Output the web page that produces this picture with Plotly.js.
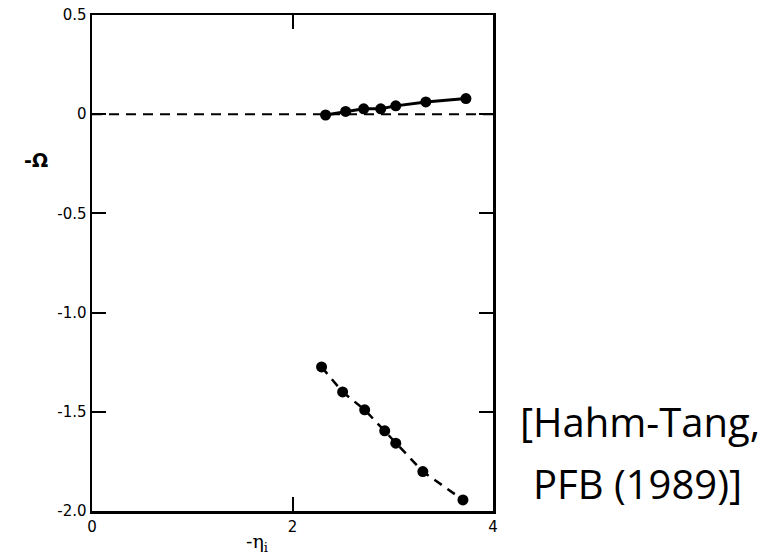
<!DOCTYPE html>
<html>
<head>
<meta charset="utf-8">
<script src="https://cdn.plot.ly/plotly-3.0.1.min.js"></script>
<style>html,body{margin:0;padding:0;background:#fff;}#chart{width:775px;height:557px;}</style>
</head>
<body>
<div id="chart"></div>
<script>
// Upper branch (solid line)
const etaUpper = [2.33, 2.53, 2.71, 2.88, 3.03, 3.33, 3.73];
const omegaUpper = [-0.004, 0.014, 0.027, 0.027, 0.042, 0.062, 0.079];
// Lower branch (dashed line)
const etaLower = [2.29, 2.50, 2.72, 2.92, 3.03, 3.30, 3.70];
const omegaLower = [-1.274, -1.400, -1.490, -1.596, -1.658, -1.801, -1.944];
// Axis ticks
const xTickVals = [0, 2, 4];
const xTickText = ['0', '2', '4'];
const yTickVals = [0.5, 0, -0.5, -1.0, -1.5, -2.0];
const yTickText = ['0.5', '0', '-0.5', '-1.0', '-1.5', '-2.0'];
const xLabel = '-η<sub>i</sub>';
const yLabel = '-Ω';
const citeLine1 = '[Hahm-Tang,';
const citeLine2 = 'PFB (1989)]';

const traces = [
  {x: etaUpper, y: omegaUpper, mode: 'lines+markers', type: 'scatter',
   line: {color: '#000', width: 3}, marker: {color: '#000', size: 11}, cliponaxis: false},
  {x: etaLower, y: omegaLower, mode: 'lines+markers', type: 'scatter',
   line: {color: '#000', width: 2.5, dash: '9px,7px'}, marker: {color: '#000', size: 11}, cliponaxis: false}
];

const tickFont = {family: 'DejaVu Sans, sans-serif', size: 15, color: '#000'};

const layout = {
  width: 775, height: 557,
  margin: {l: 92, r: 282, t: 15, b: 46},
  paper_bgcolor: '#fff', plot_bgcolor: '#fff',
  showlegend: false,
  xaxis: {range: [0, 4], tickvals: xTickVals, ticktext: xTickText, ticks: 'inside', ticklen: 14,
          tickwidth: 2, tickcolor: '#000', showline: true, linewidth: 2.5, linecolor: '#000',
          mirror: 'ticks', showgrid: false, zeroline: false, tickfont: tickFont, fixedrange: true},
  yaxis: {range: [-2.0, 0.5], tickvals: yTickVals, ticktext: yTickText, ticks: 'inside', ticklen: 14,
          tickwidth: 2, tickcolor: '#000', showline: true, linewidth: 2.5, linecolor: '#000',
          mirror: 'ticks', showgrid: false, zeroline: false, tickfont: tickFont, fixedrange: true},
  shapes: [{type: 'line', xref: 'paper', x0: 0, x1: 1, yref: 'y', y0: 0, y1: 0,
            line: {color: '#000', width: 2, dash: '10px,7px'}}],
  annotations: [
    {text: '<b>' + yLabel + '</b>', xref: 'paper', yref: 'y', x: -0.14, y: -0.23, showarrow: false,
     xanchor: 'center', yanchor: 'middle',
     font: {family: 'DejaVu Sans, sans-serif', size: 19, color: '#000'}},
    {text: xLabel, xref: 'x', yref: 'paper', x: 1.65, y: -0.064, showarrow: false,
     xanchor: 'center', yanchor: 'middle',
     font: {family: 'DejaVu Serif, serif', size: 19, color: '#000'}},
    {text: citeLine1, xref: 'paper', yref: 'paper', x: 1.367, y: 0.181, showarrow: false,
     xanchor: 'center', yanchor: 'middle',
     font: {family: 'Open Sans, sans-serif', size: 40, color: '#000'}},
    {text: citeLine2, xref: 'paper', yref: 'paper', x: 1.36, y: 0.056, showarrow: false,
     xanchor: 'center', yanchor: 'middle',
     font: {family: 'Open Sans, sans-serif', size: 40, color: '#000'}}
  ]
};

Plotly.newPlot('chart', traces, layout, {displayModeBar: false, staticPlot: true});
</script>
</body>
</html>
